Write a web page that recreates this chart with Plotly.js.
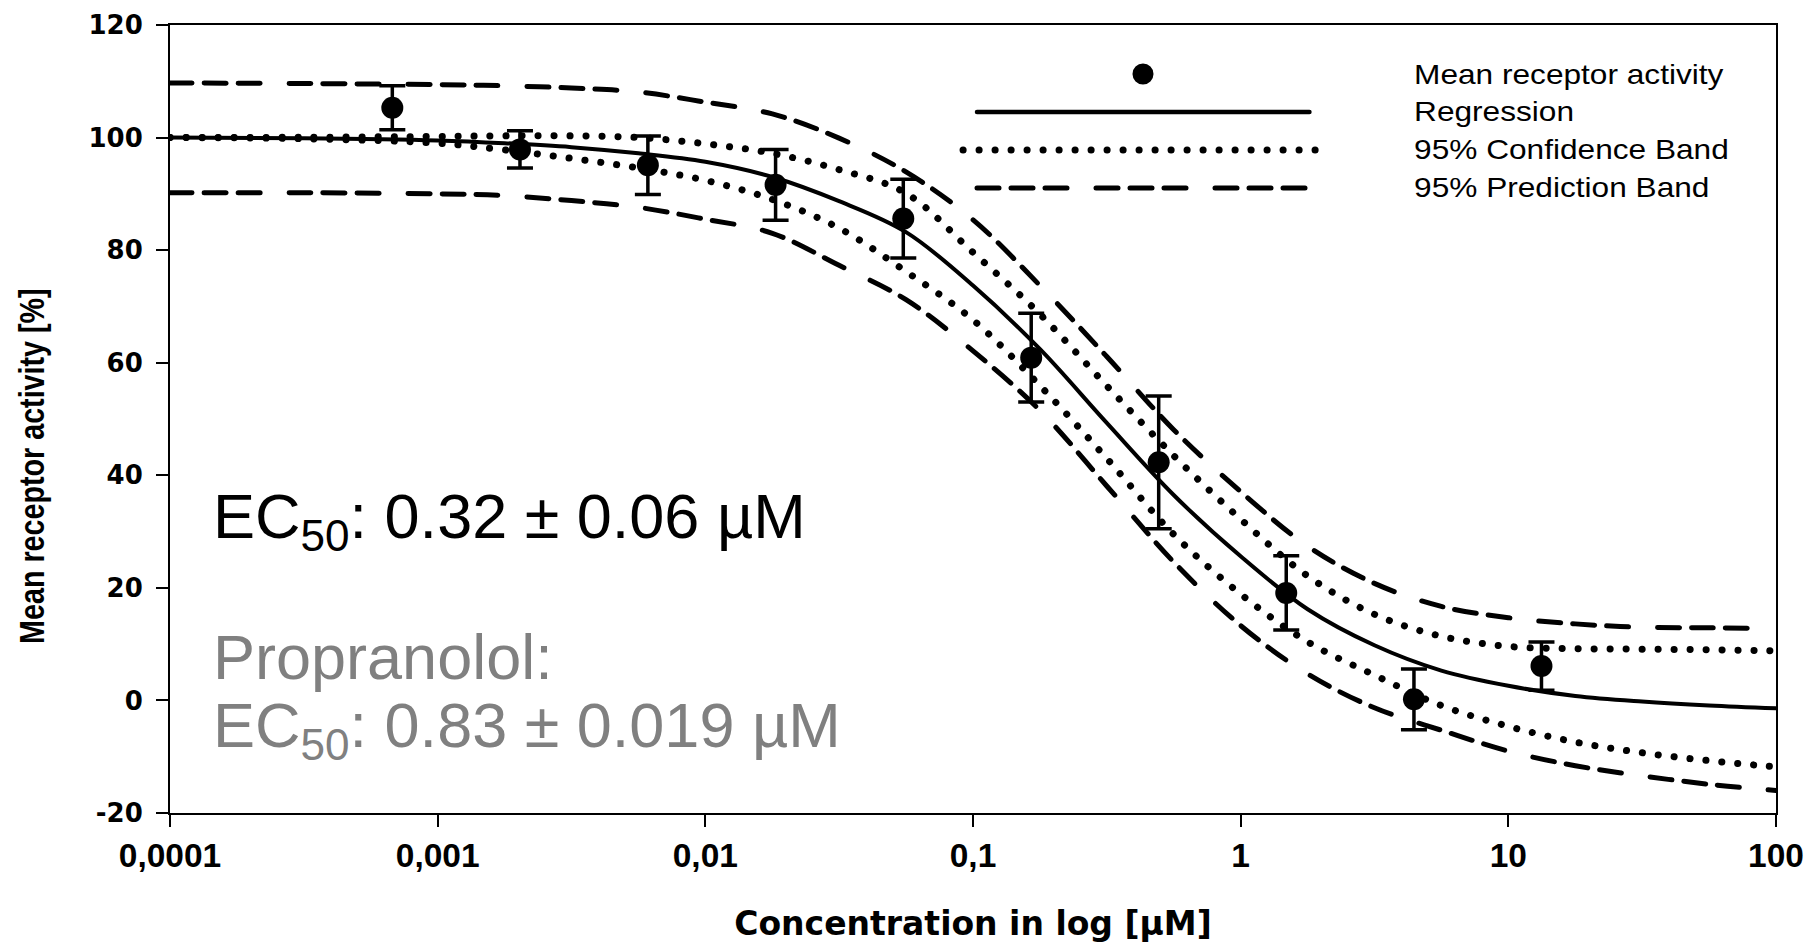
<!DOCTYPE html>
<html>
<head>
<meta charset="utf-8">
<script src="https://cdn.plot.ly/plotly-3.0.1.min.js"></script>
<style>
  html, body { margin: 0; padding: 0; background: #ffffff; }
  #chart { width: 1808px; height: 943px; }
  .scatterlayer .js-line { stroke-linecap: round !important; }
  .shapelayer path { stroke-linecap: round !important; }
</style>
</head>
<body>
<div id="chart"></div>
<script>
// ---------- data ----------
const concentration = [0.000677, 0.00203, 0.0061, 0.0183, 0.0549, 0.165, 0.494, 1.48, 4.44, 13.3];
const meanActivity  = [105.3, 97.9, 95.1, 91.6, 85.6, 60.9, 42.3, 19.1, 0.2, 6.1];
const errActivity   = [3.9, 3.3, 5.2, 6.3, 7.0, 7.9, 11.8, 6.6, 5.4, 4.3];

const fitConcentration = [0.0001, 0.000316, 0.001, 0.00178, 0.00316, 0.00562, 0.01, 0.0178, 0.0316, 0.0562,
                          0.1, 0.178, 0.316, 0.562, 1, 1.78, 3.16, 5.62, 10, 17.8, 31.6, 56.2, 100];
const regression = [100.0, 99.9, 99.5, 99.0, 98.3, 97.2, 95.7, 93.0, 88.7, 83.2,
                    73.7, 62.4, 49.3, 36.5, 25.6, 16.2, 9.8, 5.3, 2.6, 0.8, -0.2, -0.9, -1.4];
const confUpper  = [100.0, 100.05, 100.2, 100.3, 100.3, 100.0, 98.9, 97.2, 94.3, 90.1,
                    79.6, 68.6, 55.9, 43.5, 32.2, 22.1, 15.3, 11.4, 9.6, 9.2, 9.1, 9.0, 8.8];
const confLower  = [100.0, 99.8, 99.0, 97.8, 96.3, 94.6, 92.4, 89.0, 83.9, 76.2,
                    67.6, 55.9, 43.0, 29.5, 18.9, 10.4, 4.5, -0.9, -4.6, -7.4, -9.3, -10.7, -11.8];
const predUpper  = [109.7, 109.6, 109.4, 109.2, 108.8, 108.1, 106.3, 104.2, 99.9, 93.9,
                    85.4, 73.7, 61.1, 48.1, 37.1, 27.4, 20.8, 16.7, 14.7, 13.6, 13.0, 12.9, 12.8];
const predLower  = [90.2, 90.2, 90.0, 89.7, 88.8, 87.6, 85.5, 83.0, 77.3, 71.2,
                    62.1, 51.5, 38.1, 24.6, 13.3, 4.7, -1.3, -5.3, -9.0, -11.6, -13.4, -14.9, -16.0];

const xTickVals = [0.0001, 0.001, 0.01, 0.1, 1, 10, 100];
const xTickText = ['0,0001', '0,001', '0,01', '0,1', '1', '10', '100'];
const yTickVals = [-20, 0, 20, 40, 60, 80, 100, 120];
const yTickText = ['-20', '0', '20', '40', '60', '80', '100', '120'];
const legendLabels = ['Mean receptor activity', 'Regression', '95% Confidence Band', '95% Prediction Band'];
const xTitle = 'Concentration in log [µM]';
const yTitle = 'Mean receptor activity [%]';
const ec50Text = 'EC<sub>50</sub>: 0.32 ± 0.06 µM';
const refName = 'Propranolol:';
const refEc50Text = 'EC<sub>50</sub>: 0.83 ± 0.019 µM';

// ---------- styles ----------
const DASHED = '22px,12px,22px,12px,22px,29px';
const DOTTED = '0.1px,15.9px';
const ARIAL = 'Liberation Sans, Arial, sans-serif';

function line(y, dash, width, name) {
  return {
    type: 'scatter', mode: 'lines', x: fitConcentration, y: y, name: name,
    line: { color: '#000000', width: width, dash: dash, shape: 'spline', smoothing: 1 },
    hoverinfo: 'skip'
  };
}

const traces = [
  line(predUpper, DASHED, 5, legendLabels[3]),
  line(predLower, DASHED, 5, legendLabels[3]),
  line(confUpper, DOTTED, 7, legendLabels[2]),
  line(confLower, DOTTED, 7, legendLabels[2]),
  line(regression, 'solid', 4, legendLabels[1]),
  {
    type: 'scatter', mode: 'markers', x: concentration, y: meanActivity, name: legendLabels[0],
    marker: { color: '#000000', size: 22, symbol: 'circle' },
    error_y: { type: 'data', array: errActivity, visible: true, color: '#000000', thickness: 3.5, width: 13 }
  }
];

// legend drawn by hand (paper coordinates)
const legX0 = 0.5025, legX1 = 0.7095;
const legRowsY = [0.9378, 0.8896, 0.8414, 0.7932];
const legTextX = 0.7733;

const shapes = [
  { type: 'circle', xref: 'paper', yref: 'paper', x0: 0.5993, x1: 0.6124, y0: 0.9245, y1: 0.9511,
    fillcolor: '#000000', line: { color: '#000000', width: 0 } },
  { type: 'line', xref: 'paper', yref: 'paper', x0: legX0, x1: legX1, y0: legRowsY[1], y1: legRowsY[1],
    line: { color: '#000000', width: 4.5, dash: 'solid' } },
  { type: 'line', xref: 'paper', yref: 'paper', x0: 0.4938, x1: 0.7142, y0: legRowsY[2], y1: legRowsY[2],
    line: { color: '#000000', width: 7, dash: DOTTED } },
  { type: 'line', xref: 'paper', yref: 'paper', x0: legX0, x1: legX1, y0: legRowsY[3], y1: legRowsY[3],
    line: { color: '#000000', width: 5, dash: DASHED } }
];

const annotations = legendLabels.map((t, i) => ({
  xref: 'paper', yref: 'paper', x: legTextX, y: legRowsY[i], xanchor: 'left', yanchor: 'middle',
  text: t, showarrow: false, font: { family: ARIAL, size: 28, color: '#000000' }
}));

annotations.push(
  { xref: 'paper', yref: 'paper', x: 0.0255, y: 0.3706, xanchor: 'left', yanchor: 'middle',
    text: ec50Text, showarrow: false, font: { family: ARIAL, size: 63, color: '#000000' } },
  { xref: 'paper', yref: 'paper', x: 0.0255, y: 0.1986, xanchor: 'left', yanchor: 'middle',
    text: refName, showarrow: false, font: { family: ARIAL, size: 63, color: '#808080' } },
  { xref: 'paper', yref: 'paper', x: 0.0255, y: 0.1060, xanchor: 'left', yanchor: 'middle',
    text: refEc50Text, showarrow: false, font: { family: ARIAL, size: 63, color: '#808080' } },
  { xref: 'paper', yref: 'paper', x: -0.0859, y: 0.4404, xanchor: 'center', yanchor: 'middle',
    text: yTitle, textangle: -90, showarrow: false,
    font: { family: ARIAL, size: 35, color: '#000000', weight: 'bold' } }
);

const layout = {
  width: 1808, height: 943,
  margin: { l: 170, r: 32, t: 25, b: 130 },
  paper_bgcolor: '#ffffff', plot_bgcolor: '#ffffff',
  showlegend: false,
  xaxis: {
    type: 'log', range: [-4, 2],
    tickmode: 'array', tickvals: xTickVals, ticktext: xTickText,
    ticks: 'outside', ticklen: 12, tickwidth: 2, tickcolor: '#000000',
    showline: true, linecolor: '#000000', linewidth: 2, mirror: true,
    showgrid: false, zeroline: false,
    tickfont: { family: ARIAL, size: 33.5, color: '#000000', weight: 'bold' },
    title: { text: xTitle, standoff: 42,
             font: { family: 'DejaVu Sans, sans-serif', size: 33, color: '#000000', weight: 'bold' } }
  },
  yaxis: {
    range: [-20, 120],
    tickmode: 'array', tickvals: yTickVals, ticktext: yTickText,
    ticks: 'outside', ticklen: 12, tickwidth: 2, tickcolor: '#000000',
    ticklabelstandoff: 8,
    showline: true, linecolor: '#000000', linewidth: 2, mirror: true,
    showgrid: false, zeroline: false,
    tickfont: { family: 'DejaVu Sans, sans-serif', size: 26, color: '#000000', weight: 'bold' }
  },
  shapes: shapes,
  annotations: annotations
};

// the reference's lettering is drawn in a condensed / widened face: scale the text along its run
function stretchAnnotation(gd, label, factor, anchorLeft) {
  gd.querySelectorAll('.annotation-text').forEach(function (t) {
    if (t.textContent !== label) return;
    const b = t.getBBox();
    const ax = anchorLeft ? b.x : b.x + b.width / 2;
    const cy = b.y + b.height / 2;
    t.setAttribute('transform',
      'translate(' + ax + ',' + cy + ') scale(' + factor + ',1) translate(' + (-ax) + ',' + (-cy) + ')');
  });
}

Plotly.newPlot('chart', traces, layout, { displayModeBar: false, staticPlot: true }).then(function (gd) {
  stretchAnnotation(gd, yTitle, 0.82, false);
  legendLabels.forEach(function (l) { stretchAnnotation(gd, l, 1.13, true); });
});
</script>
</body>
</html>
